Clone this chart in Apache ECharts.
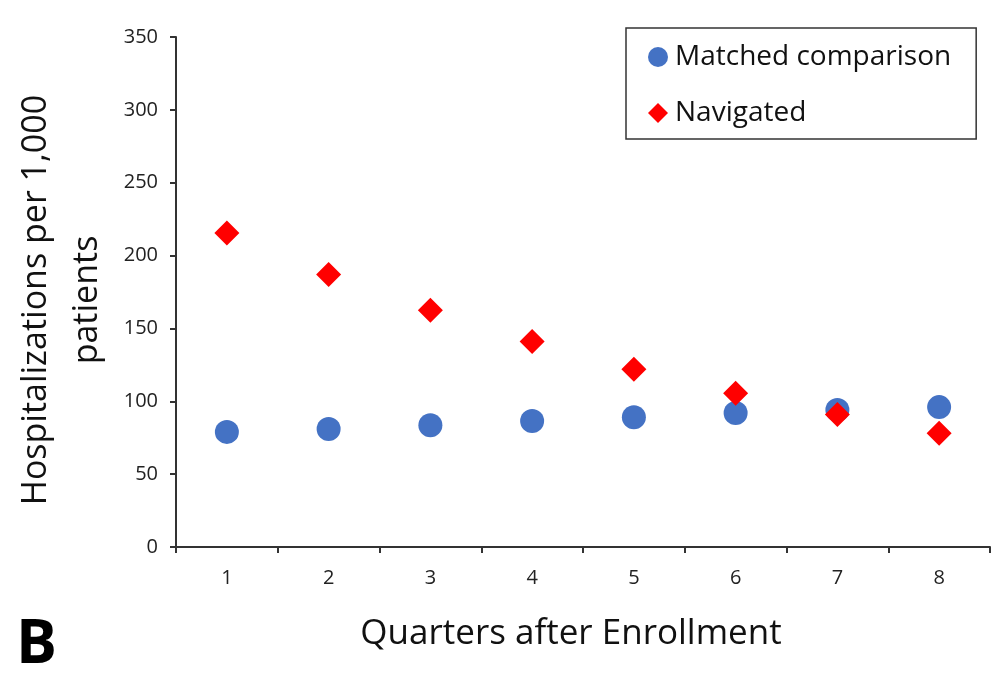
<!DOCTYPE html>
<html>
<head>
<meta charset="utf-8">
<script src="https://cdn.jsdelivr.net/npm/echarts@6/dist/echarts.min.js"></script>
<style>
  html, body { margin: 0; padding: 0; background: #fff; }
  #chart { width: 999px; height: 684px; }
</style>
</head>
<body>
<div id="chart"></div>
<script>
const quarters = ['1', '2', '3', '4', '5', '6', '7', '8']
const matched = [79, 81, 83.5, 86.5, 89, 92, 94, 96]
const navigated = [215.5, 187, 162.5, 141, 122, 105.5, 91, 78]

const font = 'Open Sans'
const axisColor = '#333'

const chart = echarts.init(document.getElementById('chart'))

chart.setOption({
	backgroundColor: '#fff',
	animation: false,
	textStyle: { fontFamily: font },
	grid: { left: 176, right: 9, top: 37, bottom: 137, containLabel: false, outerBoundsMode: 'none' },
	legend: {
		orient: 'vertical',
		left: 626,
		top: 28,
		padding: [15, 25, 12, 22],
		itemGap: 28,
		itemWidth: 20,
		itemHeight: 20,
		borderColor: '#333',
		borderWidth: 1.5,
		textStyle: { fontFamily: font, fontSize: 28, color: '#111', padding: [0, 0, 0, 2] },
		data: [
			{ name: 'Matched comparison', icon: 'circle' },
			{ name: 'Navigated', icon: 'diamond' }
		]
	},
	xAxis: {
		type: 'category',
		data: quarters,
		boundaryGap: true,
		name: 'Quarters after Enrollment',
		nameLocation: 'middle',
		nameGap: 70,
		nameTextStyle: { fontSize: 35, color: '#111', fontFamily: font, padding: [0, 24, 0, 0] },
		axisLine: { lineStyle: { color: axisColor, width: 2 } },
		axisTick: { show: true, length: 6, lineStyle: { color: axisColor, width: 2 } },
		axisLabel: { fontSize: 20, color: '#222', margin: 21 },
		splitLine: { show: false }
	},
	yAxis: {
		type: 'value',
		min: 0,
		max: 350,
		interval: 50,
		name: 'Hospitalizations per 1,000\npatients',
		nameLocation: 'middle',
		nameRotate: 90,
		nameGap: 62,
		nameTextStyle: { fontSize: 34, color: '#111', fontFamily: font, lineHeight: 51, padding: [0, 16, 0, 0] },
		axisLine: { show: true, lineStyle: { color: axisColor, width: 2 } },
		axisTick: { show: true, length: 6, lineStyle: { color: axisColor, width: 2 } },
		axisLabel: { fontSize: 20, color: '#222', margin: 18 },
		splitLine: { show: false }
	},
	graphic: [{
		type: 'text',
		left: 16,
		top: 615,
		style: { text: 'B', fontSize: 61, fontWeight: 'bold', fontFamily: font, fill: '#000' }
	}],
	series: [
		{
			name: 'Matched comparison',
			type: 'scatter',
			symbol: 'circle',
			symbolSize: 24,
			itemStyle: { color: '#4472C4', opacity: 1 },
			data: matched
		},
		{
			name: 'Navigated',
			type: 'scatter',
			symbol: 'diamond',
			symbolSize: 25,
			itemStyle: { color: '#FF0000', opacity: 1 },
			data: navigated
		}
	]
})
</script>
</body>
</html>
